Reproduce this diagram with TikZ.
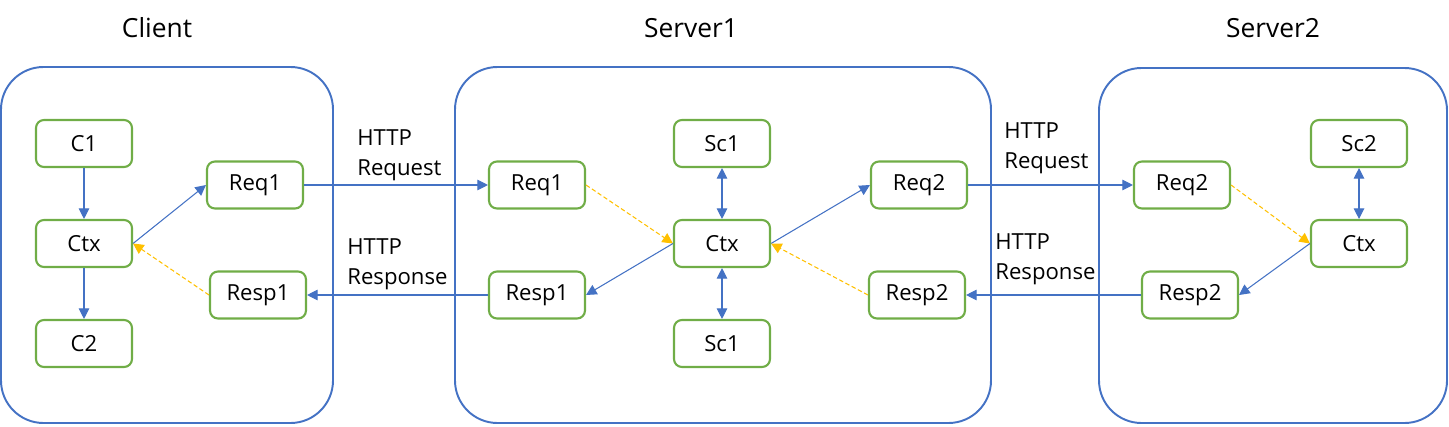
\documentclass[tikz,border=0pt]{standalone}
\usepackage{fontspec}
\setmainfont{Open Sans}
\usetikzlibrary{arrows.meta,positioning}
\definecolor{officeblue}{RGB}{68,114,196}
\definecolor{officegreen}{RGB}{112,173,71}
\definecolor{officeyellow}{RGB}{255,192,0}

\begin{document}
\begin{tikzpicture}[x=0.02cm,y=-0.02cm,
  part/.style={draw=officegreen,line width=1.2pt,rounded corners=4.5pt,minimum width=1.92cm,minimum height=0.94cm,inner sep=0pt,font=\fontsize{12.6}{15}\selectfont},
  host/.style={draw=officeblue,line width=1.1pt,rounded corners=0.85cm},
  hosttitle/.style={font=\fontsize{15}{18}\selectfont},
  msg/.style={align=left,inner sep=0pt,anchor=west,font=\fontsize{12.6}{17}\selectfont},
  call/.style={draw=officeblue,line width=0.6pt,-{Triangle[length=6pt,width=6pt]}},
  twoway/.style={draw=officeblue,line width=0.6pt,{Triangle[length=6pt,width=6pt]}-{Triangle[length=6pt,width=6pt]}},
  relay/.style={draw=officeyellow,line width=0.6pt,dash pattern=on 2.5pt off 1.5pt,-{Triangle[length=6pt,width=6pt]}}]
\useasboundingbox (0,0) rectangle (1449,426);
\draw[host] (1,67) rectangle (333,423);
\draw[host] (455,67) rectangle (991,423);
\draw[host] (1099,68) rectangle (1447,423);
\node[hosttitle] (client) at (157,28) {Client};
\node[hosttitle] (server1) at (691,28) {Server1};
\node[hosttitle] (server2) at (1273,28) {Server2};
\node[part] (c1) at (84,143.5) {C1};
\node[part] (cctx) at (84,243.5) {Ctx};
\node[part] (c2) at (84,343.5) {C2};
\node[part] (creq) at (255,185) {Req1};
\node[part] (cresp) at (258,295) {Resp1};
\node[part] (areq) at (537,185) {Req1};
\node[part] (asca) at (722,143.5) {Sc1};
\node[part] (actx) at (722,243.5) {Ctx};
\node[part] (ascb) at (722,343.5) {Sc1};
\node[part] (aresp) at (537,295) {Resp1};
\node[part] (areq2) at (919,185) {Req2};
\node[part] (aresp2) at (917,295) {Resp2};
\node[part] (breq) at (1182,185) {Req2};
\node[part] (bsc) at (1359,143.5) {Sc2};
\node[part] (bctx) at (1359,243.5) {Ctx};
\node[part] (bresp) at (1190,295) {Resp2};
\node[msg] (reqmsg1) at (357,155) {HTTP\\Request};
\node[msg] (respmsg1) at (347,264) {HTTP\\Response};
\node[msg] (reqmsg2) at (1004,148) {HTTP\\Request};
\node[msg] (respmsg2) at (995,259) {HTTP\\Response};
\draw[call] (c1) -- (cctx);
\draw[call] (cctx) -- (c2);
\draw[call] (cctx.east) -- (creq.west);
\draw[relay] (cresp.west) -- (cctx.east);
\draw[call] (creq) -- (areq);
\draw[call] (aresp) -- (cresp);
\draw[relay] (areq.east) -- (actx.west);
\draw[call] (actx.west) -- (aresp.east);
\draw[twoway] (asca) -- (actx);
\draw[twoway] (actx) -- (ascb);
\draw[call] (actx.east) -- (areq2.west);
\draw[relay] (aresp2.west) -- (actx.east);
\draw[call] (areq2) -- (breq);
\draw[call] (bresp) -- (aresp2);
\draw[relay] (breq.east) -- (bctx.west);
\draw[call] (bctx.west) -- (bresp.east);
\draw[twoway] (bsc) -- (bctx);
\end{tikzpicture}
\end{document}
